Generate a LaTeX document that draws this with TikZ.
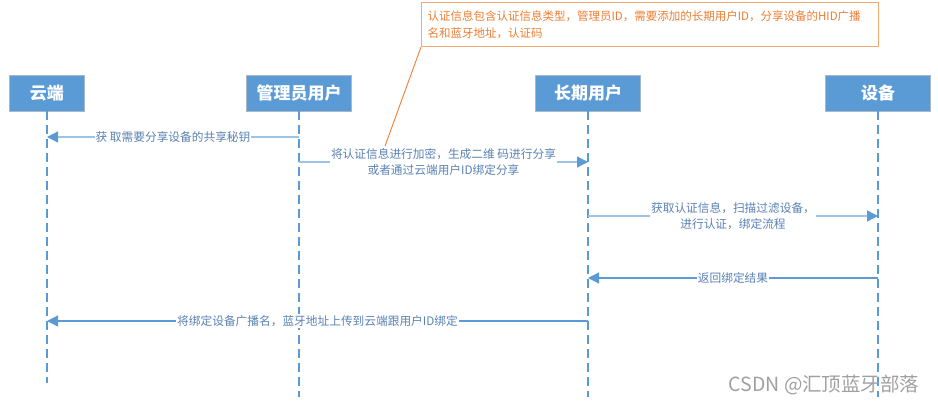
\documentclass[tikz,border=0pt]{standalone}
\usepackage{fontspec}
\setmainfont{Noto Sans CJK SC}
\usetikzlibrary{positioning, arrows.meta}
\definecolor{boxblue}{HTML}{5B9BD5}
\definecolor{boxedge}{HTML}{A9B8C8}
\definecolor{linelight}{HTML}{9DC3E6}
\definecolor{labelblue}{HTML}{5A82B4}
\definecolor{noteorange}{HTML}{ED7D31}
\definecolor{noteedge}{HTML}{F4A673}
\definecolor{markgray}{HTML}{A0A0A0}

\begin{document}
\begin{tikzpicture}[x=1pt, y=-1pt,
		actor/.style={rectangle, draw=boxedge, fill=boxblue, text=white, minimum height=36pt, inner sep=0pt, font=\fontsize{17}{19}\selectfont\bfseries},
		life/.style={draw=boxblue, line width=1.2pt, dash pattern=on 9pt off 5pt},
		msg/.style={draw=linelight, line width=1.3pt, -{Triangle[length=11pt, width=11pt, color=boxblue]}},
		msgdark/.style={msg, draw=boxblue},
		msglabel/.style={fill=white, inner sep=1pt, text=labelblue, align=center, font=\fontsize{11.7}{15.5}\selectfont}]
			\useasboundingbox (0,0) rectangle (938,404);

			\node (cloud) [actor, minimum width=75pt] at (47,93) {云端};
			\node (admin) [actor, minimum width=105pt] at (299,93) {管理员用户};
			\node (longuser) [actor, minimum width=105pt] at (588,93) {长期用户};
			\node (device) [actor, minimum width=105pt] at (878,93) {设备};

			% lifelines
			\coordinate (cloudend) at (47,383);
			\coordinate (adminend) at (299,397);
			\coordinate (longend) at (588,397);
			\coordinate (deviceend) at (878,397);
			\draw[life] (cloud) -- (cloudend);
			\draw[life] (admin) -- (adminend);
			\draw[life] (longuser) -- (longend);
			\draw[life] (device) -- (deviceend);

			% messages
			\coordinate (admin1) at (299,137);
			\coordinate (cloud1) at (47,137);
			\draw[msg] (admin1) -- node[msglabel] {获 取需要分享设备的共享秘钥} (cloud1);

			\coordinate (admin2) at (299,162);
			\coordinate (long2) at (588,162);
			\draw[msg] (admin2) -- node (sharelabel) [msglabel] {将认证信息进行加密，生成二维 码进行分享\\或者通过云端用户ID绑定分享} (long2);

			\coordinate (long3) at (588,216);
			\coordinate (device3) at (878,216);
			\draw[msg] (long3) -- node[msglabel] {获取认证信息，扫描过滤设备，\\进行认证，绑定流程} (device3);

			\coordinate (device4) at (878,278);
			\coordinate (long4) at (588,278);
			\draw[msgdark] (device4) -- node[msglabel] {返回绑定结果} (long4);

			\coordinate (long5) at (588,321);
			\coordinate (cloud5) at (47,321);
			\draw[msgdark] (long5) -- node[msglabel] {将绑定设备广播名，蓝牙地址上传到云端跟用户ID绑定} (cloud5);

			% note
			\node (note) [draw=noteedge, line width=1pt, text=noteorange, anchor=north west, text width=445pt, inner xsep=6pt, minimum height=44pt, align=left, font=\fontsize{11.5}{16.5}\selectfont] at (421,2) {认证信息包含认证信息类型，管理员ID，需要添加的长期用户ID，分享设备的HID广播\\名和蓝牙地址，认证码};
			\coordinate (notetip) at (385,146);
			\draw[noteorange, line width=0.9pt] (note.south west) -- (notetip);

			\node (mark) [text=markgray, anchor=east, font=\fontsize{19.5}{21}\selectfont] at (923,385) {CSDN @汇顶蓝牙部落};
		\end{tikzpicture}
\end{document}
